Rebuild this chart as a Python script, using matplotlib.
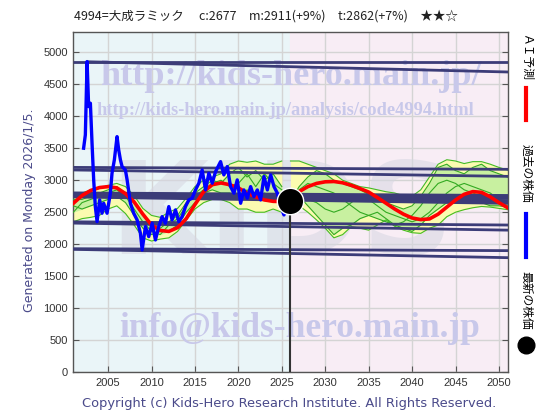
import matplotlib
matplotlib.use("Agg")
import matplotlib.pyplot as plt
import numpy as np

# ---------------- data ----------------
blue_years = [2002.18, 2002.38, 2002.58, 2002.76, 2002.96, 2003.15, 2003.34, 2003.53, 2003.73, 2004.03,
              2004.30, 2004.49, 2004.88, 2005.26, 2005.45, 2005.72, 2006.03, 2006.22, 2006.42, 2006.61,
              2006.99, 2007.19, 2007.57, 2007.95, 2008.34, 2008.72, 2008.92, 2009.30, 2009.68, 2010.07,
              2010.45, 2010.83, 2011.22, 2011.60, 2011.99, 2012.37, 2012.76, 2013.14, 2013.53, 2013.91,
              2014.29, 2014.68, 2015.06, 2015.45, 2015.83, 2016.22, 2016.60, 2016.99, 2017.37, 2017.95,
              2018.33, 2018.72, 2019.10, 2019.49, 2019.87, 2020.26, 2020.64, 2021.03, 2021.41, 2021.79,
              2022.18, 2022.56, 2022.95, 2023.34, 2023.72, 2024.10, 2024.49, 2024.87, 2025.25, 2025.40]
blue_vals = [3500, 3708, 4853, 4150, 4203, 3578, 3005, 2588, 2353, 2692,
             2484, 2640, 2484, 2797, 3109, 3317, 3681, 3473, 3317, 3213,
             3161, 3005, 2640, 2484, 2380, 2172, 1911, 2275, 2119, 2328,
             2067, 2275, 2431, 2328, 2588, 2380, 2536, 2353, 2431, 2588,
             2692, 2719, 2848, 2953, 3161, 2848, 3109, 2953, 3134, 3290,
             3083, 3213, 2900, 2797, 3005, 2640, 2848, 2719, 2900, 2744,
             2848, 2692, 3057, 2848, 3083, 2900, 2797, 2588, 2458, 2510]

red_years = list(range(2001, 2052))
red_vals = [2640, 2760, 2840, 2885, 2900, 2880, 2790, 2660, 2470, 2300,
            2215, 2200, 2260, 2400, 2620, 2820, 2930, 2957, 2930, 2880,
            2800, 2740, 2692, 2670, 2666, 2690, 2822, 2900, 2950, 2975,
            2980, 2960, 2920, 2870, 2815, 2730, 2640, 2550, 2470, 2410,
            2385, 2395, 2470, 2580, 2690, 2780, 2822, 2810, 2740, 2650,
            2570]

past_years = list(range(2001, 2026))
past_upper = [2750, 2800, 2850, 2870, 2920, 2950, 2900, 2760, 2560, 2450, 2420, 2500, 2560,
              2720, 2900, 3000, 3050, 3100, 3250, 3300, 3280, 3300, 3250, 3250, 3300]
past_lower = [2350, 2400, 2420, 2450, 2550, 2600, 2480, 2300, 2100, 2050, 2080, 2100, 2200,
              2380, 2550, 2650, 2700, 2700, 2650, 2550, 2550, 2500, 2500, 2550, 2500]
past_paths = [
    [2500, 2650, 2700, 2750, 2800, 2850, 2750, 2550, 2350, 2200, 2150, 2300, 2400,
     2600, 2800, 2900, 3000, 2950, 3100, 3200, 3050, 3150, 3000, 3100, 2900],
    [2600, 2550, 2600, 2650, 2700, 2750, 2650, 2450, 2250, 2150, 2200, 2200, 2300,
     2500, 2650, 2800, 2850, 2800, 2800, 2700, 2850, 2700, 2800, 2750, 2700],
    [2700, 2700, 2750, 2800, 2850, 2900, 2800, 2650, 2450, 2300, 2250, 2350, 2450,
     2650, 2750, 2850, 2950, 3000, 2900, 2950, 3100, 2900, 3100, 2950, 2850],
]

fut_years = list(range(2026, 2052))
fut_upper = [3300, 3300, 3250, 3200, 3150, 3100, 3000, 2950, 2900, 2880, 2850, 2820, 2800,
             2760, 2750, 2850, 3050, 3250, 3320, 3300, 3260, 3290, 3290, 3250, 3200, 3160]
fut_lower = [2600, 2600, 2500, 2380, 2250, 2100, 2150, 2275, 2250, 2220, 2300, 2380, 2280,
             2220, 2180, 2170, 2250, 2300, 2430, 2500, 2540, 2570, 2590, 2580, 2560, 2540]
fut_paths = [
    [2680, 2900, 3050, 3150, 3100, 3000, 2950, 2900, 2850, 2780, 2700, 2650, 2600,
     2550, 2600, 2750, 2950, 3200, 3250, 3150, 3100, 3200, 3250, 3150, 3100, 3050],
    [2680, 2750, 2600, 2450, 2300, 2150, 2250, 2300, 2400, 2450, 2500, 2400, 2300,
     2250, 2200, 2300, 2450, 2550, 2650, 2700, 2750, 2700, 2650, 2600, 2600, 2580],
    [2680, 2850, 2950, 2900, 2850, 2800, 2700, 2600, 2500, 2450, 2400, 2350, 2300,
     2350, 2450, 2600, 2800, 2950, 3000, 2950, 2850, 2800, 2750, 2700, 2650, 2600],
    [2680, 2800, 2700, 2650, 2550, 2500, 2550, 2650, 2750, 2700, 2600, 2500, 2450,
     2400, 2350, 2400, 2500, 2650, 2800, 2900, 2950, 2900, 2850, 2800, 2700, 2650],
]

# trend lines: start/end points and widths
trend_x0 = [2001.0, 2002.6, 2001.0, 2001.0, 2001.0, 2001.0, 2001.0, 2001.0, 2001.0, 2001.0]
trend_y0 = [4850, 4850, 3200, 3160, 2780, 2760, 2350, 2330, 1930, 1920]
trend_x1 = [2051.1] * 10
trend_y1 = [4850, 4690, 3170, 3060, 2740, 2660, 2300, 2220, 1900, 1790]
trend_w = [2, 2, 2, 2, 4, 4, 2, 2, 2, 2]

latest_year = 2026.0
latest_price = 2677

x_ticks = [2005, 2010, 2015, 2020, 2025, 2030, 2035, 2040, 2045, 2050]
y_ticks = [0, 500, 1000, 1500, 2000, 2500, 3000, 3500, 4000, 4500, 5000]

title = "4994=大成ラミック　 c:2677　m:2911(+9%)　t:2862(+7%)　★★☆"

# ---------------- figure ----------------
fig = plt.figure(figsize=(5.6, 4.2), dpi=100)
ax = fig.add_axes([0.131, 0.1136, 0.777, 0.811])
ax.set_xlim(2001.0, 2051.1)
ax.set_ylim(0, 5320)

ax.axvspan(2001.0, latest_year, color="#eaf5f8", zorder=0)
ax.axvspan(latest_year, 2051.1, color="#f8edf5", zorder=0)
ax.set_xticks(x_ticks)
ax.set_yticks(y_ticks)
ax.grid(True, color="#d4d4d4", lw=1.0, zorder=0.5)
ax.set_axisbelow(True)

# watermarks
ax.text(2025.0, 2400, "KIDS", fontsize=92, color="#d6d6e2", alpha=0.55,
        ha="center", va="center", fontweight="bold", family="DejaVu Sans", zorder=1)
ax.text(0.5, 0.867, "http://kids-hero.main.jp/", transform=ax.transAxes, fontsize=26,
        color="#c8c8ea", ha="center", va="center", fontweight="bold", family="Liberation Serif", zorder=1)
ax.text(0.487, 0.769, "http://kids-hero.main.jp/analysis/code4994.html", transform=ax.transAxes, fontsize=13.3,
        color="#c8c8ea", ha="center", va="center", fontweight="bold", family="Liberation Serif", zorder=1)
ax.text(0.52, 0.130, "info@kids-hero.main.jp", transform=ax.transAxes, fontsize=25.5,
        color="#c8c8ea", ha="center", va="center", fontweight="bold", family="Liberation Serif", zorder=1)

# bands
ax.fill_between(past_years, past_lower, past_upper, color="#fbfbb0", zorder=2, lw=0)
ax.fill_between(past_years, np.min(past_paths, axis=0), np.max(past_paths, axis=0), color="#c8f0a0", zorder=2.1, lw=0)
ax.fill_between(fut_years, fut_lower, fut_upper, color="#fbfbb0", zorder=2, lw=0)
ax.fill_between(fut_years, np.min(fut_paths, axis=0), np.max(fut_paths, axis=0), color="#c8f0a0", zorder=2.1, lw=0)
for env in (past_upper, past_lower):
    ax.plot(past_years, env, color="#44bb22", lw=0.8, zorder=2.5)
for env in (fut_upper, fut_lower):
    ax.plot(fut_years, env, color="#44bb22", lw=0.8, zorder=2.5)
for p in past_paths:
    ax.plot(past_years, p, color="#33aa22", lw=0.8, zorder=2.6)
for p in fut_paths:
    ax.plot(fut_years, p, color="#33aa22", lw=0.8, zorder=2.6)

# trend lines
for x0, y0, x1, y1, w in zip(trend_x0, trend_y0, trend_x1, trend_y1, trend_w):
    ax.plot([x0, x1], [y0, y1], color="#3c3c78", lw=w, zorder=3, solid_capstyle="butt")

# price & prediction
ax.plot(red_years, red_vals, color="#ff0000", lw=2.6, zorder=4)
ax.plot(blue_years, blue_vals, color="#222222", lw=1.0, zorder=4.4)
ax.plot(blue_years, blue_vals, color="#0000ff", lw=2.4, zorder=4.5)

ax.plot([latest_year, latest_year], [0, latest_price], color="#333333", lw=1.5, zorder=5)
ax.plot([latest_year], [latest_price], "o", color="black", markersize=19, markeredgecolor="white",
        markeredgewidth=1.0, zorder=6)

for s in ax.spines.values():
    s.set_color("#555555")
    s.set_linewidth(1.0)
ax.tick_params(direction="in", length=4, color="#555555", labelsize=8, labelcolor="#333333",
               right=True, pad=4)
for lab in ax.get_xticklabels() + ax.get_yticklabels():
    lab.set_family("Liberation Sans")

fig.text(0.475, 0.962, title, ha="center", va="center", fontsize=9,
         family=["Noto Sans CJK JP", "DejaVu Sans"], color="#222222")
fig.text(0.052, 0.50, "Generated on Monday 2026/1/5.", rotation=90, ha="center", va="center",
         fontsize=9, color="#4a4a8a", family="DejaVu Sans")
fig.text(0.516, 0.040, "Copyright (c) Kids-Hero Research Institute. All Rights Reserved.",
         ha="center", va="center", fontsize=9.4, color="#4a4a8a", family="DejaVu Sans")

# right legend
jp = ["Noto Sans CJK JP", "DejaVu Sans"]
lx = 526 / 560
fig.text(lx, 1 - 58 / 420, "ＡＩ予測", rotation=270, ha="center", va="center", fontsize=8.5, family=jp)
fig.add_artist(plt.Line2D([lx, lx], [1 - 88 / 420, 1 - 120 / 420], color="#ff0000", lw=3))
fig.text(lx, 1 - 173 / 420, "過去の株価", rotation=270, ha="center", va="center", fontsize=8.5, family=jp)
fig.add_artist(plt.Line2D([lx, lx], [1 - 214 / 420, 1 - 257 / 420], color="#0000ff", lw=3))
fig.text(lx, 1 - 300 / 420, "最新の株価", rotation=270, ha="center", va="center", fontsize=8.5, family=jp)
fig.add_artist(plt.Line2D([lx], [1 - 345 / 420], marker="o", color="black", markersize=12))

fig.savefig("out.png", dpi=100)
